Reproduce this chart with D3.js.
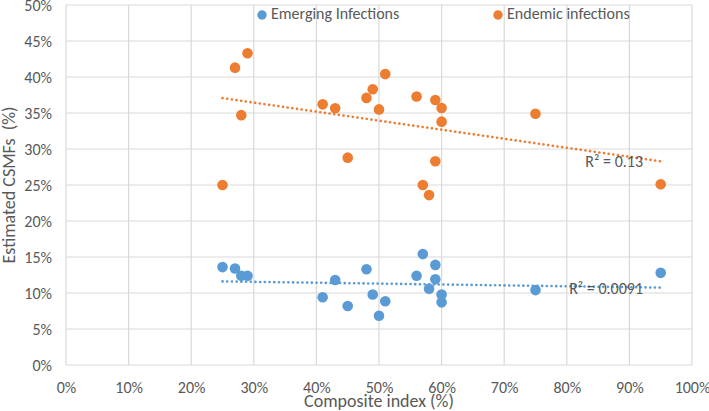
<!DOCTYPE html>
<html><head><meta charset="utf-8">
<script src="https://cdn.jsdelivr.net/npm/d3@7"></script>
<style>
body{margin:0;background:#fff;}
text{font-family:Carlito,"Liberation Sans Narrow","DejaVu Sans Condensed","Liberation Sans",sans-serif;fill:#595959;}
</style></head>
<body><svg id="c" width="709" height="411"></svg>
<script>
const seriesNames = ["Emerging Infections", "Endemic infections"];
const emergingX = [25,27,28,29,41,43,45,48,49,50,51,56,57,59,59,58,60,60,75,95];
const emergingY = [13.6,13.4,12.4,12.4,9.4,11.8,8.2,13.3,9.8,6.85,8.85,12.4,15.4,13.9,11.9,10.6,9.8,8.7,10.4,12.8];
const endemicX = [25,27,29,28,41,43,45,48,49,50,51,56,59,60,60,59,57,58,75,95];
const endemicY = [25.0,41.3,43.3,34.7,36.2,35.65,28.8,37.1,38.3,35.5,40.4,37.3,36.8,35.7,33.8,28.3,25.0,23.6,34.9,25.1];
const r2Labels = ["R² = 0.0091", "R² = 0.13"];
const xTicks = [0,10,20,30,40,50,60,70,80,90,100];
const yTicks = [0,5,10,15,20,25,30,35,40,45,50];
const colors = ["#5B9BD5", "#ED7D31"];

const svg = d3.select("#c");
const m = {l:66, t:5, r:17, b:46};
const W = 709 - m.l - m.r, H = 411 - m.t - m.b;
const g = svg.append("g").attr("transform", `translate(${m.l},${m.t})`);
const x = d3.scaleLinear().domain([0,100]).range([0,W]);
const y = d3.scaleLinear().domain([0,50]).range([H,0]);

// grid
g.append("g").selectAll("line").data(yTicks).join("line")
  .attr("x1",0).attr("x2",W).attr("y1",d=>y(d)).attr("y2",d=>y(d))
  .attr("stroke","#D9D9D9").attr("stroke-width",1.2);
g.append("g").selectAll("line").data(xTicks).join("line")
  .attr("y1",0).attr("y2",H).attr("x1",d=>x(d)).attr("x2",d=>x(d))
  .attr("stroke","#D9D9D9").attr("stroke-width",1.2);

// axes labels
const xa = g.append("g").attr("transform",`translate(0,${H})`)
  .call(d3.axisBottom(x).tickValues(xTicks).tickFormat(d=>d+"%").tickSize(0).tickPadding(17));
xa.select(".domain").remove();
xa.selectAll("text").attr("font-size",16).style("fill","#595959");
const ya = g.append("g")
  .call(d3.axisLeft(y).tickValues(yTicks).tickFormat(d=>d+"%").tickSize(0).tickPadding(14));
ya.select(".domain").remove();
ya.selectAll("text").attr("font-size",16).style("fill","#595959");

svg.append("text").attr("x", m.l + x(50)).attr("y", 407).attr("text-anchor","middle")
  .attr("font-size",18).text("Composite index (%)");
svg.append("text").attr("transform",`translate(15,${m.t + y(25)}) rotate(-90)`)
  .attr("text-anchor","middle").attr("font-size",18).attr("xml:space","preserve").text("Estimated CSMFs  (%)");

// trendlines
function fit(xs, ys){
  const mx = d3.mean(xs), my = d3.mean(ys);
  let sxy=0,sxx=0; xs.forEach((v,i)=>{sxy+=(v-mx)*(ys[i]-my); sxx+=(v-mx)*(v-mx);});
  const b = sxy/sxx, a = my - b*mx;
  const x0 = d3.min(xs), x1 = d3.max(xs);
  return [[x0,a+b*x0],[x1,a+b*x1]];
}
const series = [[emergingX, emergingY],[endemicX, endemicY]];
series.forEach((s,i)=>{
  const pts = fit(s[0], s[1]);
  g.append("path").attr("d", d3.line().x(d=>x(d[0])).y(d=>y(d[1]))(pts))
    .attr("stroke", colors[i]).attr("stroke-width",2.6).attr("fill","none")
    .attr("stroke-dasharray","0.1,4.6").attr("stroke-linecap","round");
});

// points
series.forEach((s,i)=>{
  g.append("g").selectAll("circle").data(s[0].map((v,j)=>[v,s[1][j]])).join("circle")
    .attr("cx",d=>x(d[0])).attr("cy",d=>y(d[1])).attr("r",5.3).attr("fill",colors[i]);
});

// R2 labels
svg.append("text").attr("x",643).attr("y",294).attr("text-anchor","end").attr("font-size",16).text(r2Labels[0]);
svg.append("text").attr("x",643).attr("y",167).attr("text-anchor","end").attr("font-size",16).text(r2Labels[1]);

// legend
const legX = [262, 498];
seriesNames.forEach((n,i)=>{
  svg.append("circle").attr("cx",legX[i]).attr("cy",15).attr("r",4.7).attr("fill",colors[i]);
  svg.append("text").attr("x",legX[i]+9).attr("y",19).attr("font-size",16).text(n);
});
</script></body></html>
